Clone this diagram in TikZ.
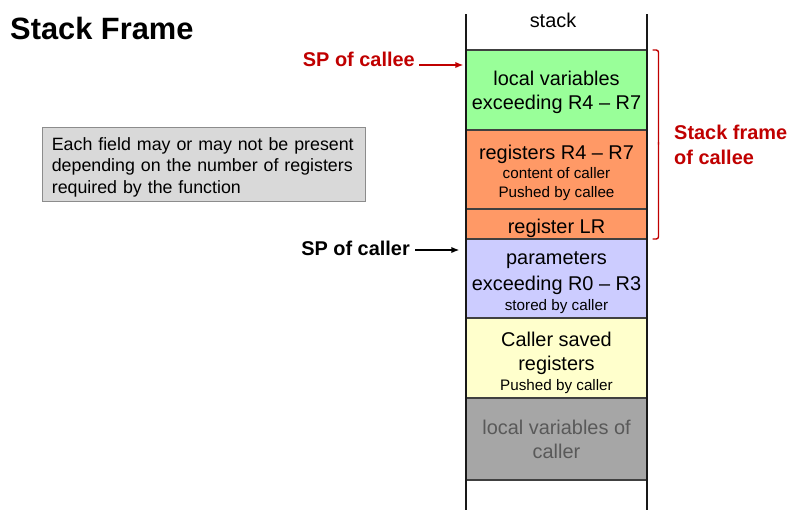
\documentclass[tikz,border=0pt]{standalone}
\usepackage{fontspec}
\setmainfont{Liberation Sans}
\usetikzlibrary{positioning, arrows.meta, calc}
\definecolor{cLocal}{HTML}{99FF99}
\definecolor{cRegs}{HTML}{FF9966}
\definecolor{cParam}{HTML}{CCCCFF}
\definecolor{cSaved}{HTML}{FFFFCC}
\definecolor{cOld}{HTML}{A6A6A6}
\definecolor{cOldTxt}{HTML}{595959}
\definecolor{cNote}{HTML}{D9D9D9}
\definecolor{cNoteB}{HTML}{8C8C8C}
\definecolor{cRed}{HTML}{C00000}
\newcommand{\bigtxt}{\fontsize{17}{20.5}\selectfont}
\newcommand{\smalltxt}{\fontsize{13}{15.5}\selectfont}
\tikzset{
  cell/.style     ={draw=black!75, line width=1pt, outer sep=0pt,
                    align=center, font=\bigtxt, inner sep=1pt,
                    text depth=0pt, minimum width=5.4cm},
  stackline/.style={line width=1.7pt, draw=black!90},
  splabel/.style  ={font=\bfseries\fontsize{17}{20}\selectfont, inner sep=0pt},
  sparrow/.style  ={-{Latex[length=7pt,width=5.5pt]}, line width=1.7pt},
  notebox/.style  ={draw=cNoteB, fill=cNote, line width=0.8pt,
                    align=left, font=\fontsize{15.2}{18.3}\selectfont,
                    minimum width=9.69cm, minimum height=2.22cm,
                    text width=9.1cm, inner sep=0pt},
}

\begin{document}
\begin{tikzpicture}[x=0.03cm, y=-0.03cm]
  \useasboundingbox (0,0) rectangle (798,521);

  % title and note
  \node[anchor=base west, font=\bfseries\fontsize{26.3}{30}\selectfont,
        inner sep=0pt] (title) at (10,39) {Stack Frame};
  \node[notebox] (note) at (203.5,164) {\rule{0pt}{16.5pt}Each field may or may not be present
    depending on the number of registers required by the function};

  % stack cells, top to bottom
  \node[cell, fill=cLocal, anchor=north, minimum height=2.4cm] (locals)
    at (556.5,50) {local variables\\exceeding R4 -- R7};
  \node[cell, fill=cRegs, below=0pt of locals, minimum height=2.37cm] (regs) {%
    \rule{0pt}{15.4pt}registers R4 -- R7\\[-4.5pt]
    {\smalltxt content of caller}\\[-3.7pt]
    {\smalltxt Pushed by callee}};
  \node[cell, fill=cRegs, below=0pt of regs, minimum height=0.9cm] (lr)
    {\rule{0pt}{15.4pt}register LR};
  \node[cell, fill=cParam, below=0pt of lr, minimum height=2.37cm] (params) {%
    \rule{0pt}{15.4pt}parameters\\[1.5pt]exceeding R0 -- R3\\[-4pt]
    {\smalltxt stored by caller}};
  \node[cell, fill=cSaved, below=0pt of params, minimum height=2.4cm] (saved) {%
    \rule{0pt}{18pt}Caller saved\\registers\\[-3pt]
    {\smalltxt Pushed by caller}};
  \node[cell, fill=cOld, text=cOldTxt, below=0pt of saved,
        minimum height=2.46cm] (oldlocals) {local variables of\\caller};

  % stack walls
  \coordinate (wlt) at (466,14);
  \coordinate (wlb) at (466,510);
  \coordinate (wrt) at (647,14);
  \coordinate (wrb) at (647,510);
  \draw[stackline] (wlt) -- (wlb);
  \draw[stackline] (wrt) -- (wrb);
  \node[font=\bigtxt, inner sep=0pt] (stacklbl) at (553,20) {stack};

  % stack pointers
  \node[splabel, text=cRed, anchor=base east] (spcallee) at (415,66) {SP of callee};
  \node[splabel, anchor=base east] (spcaller) at (410,255) {SP of caller};
  \draw[sparrow, cRed] ($(spcallee.base east)+(4,-1)$)
       -- ($(spcallee.base east -| locals.west)+(-3,-1)$);
  \draw[sparrow] ($(spcaller.base east)+(5,-5)$)
       -- ($(spcaller.base east -| params.west)+(-7,-5)$);

  % callee frame bracket
  \coordinate (brtop) at ($(locals.north east)+(6,0)$);
  \coordinate (brbot) at ($(lr.south east)+(6,0)$);
  \coordinate (brmid) at ($(brtop)!0.5!(brbot)+(6,0)$);
  \draw[cRed, line width=1.2pt, rounded corners=2pt]
       (brtop) -- ++(6,0) |- (brmid);
  \draw[cRed, line width=1.2pt, rounded corners=2pt]
       (brbot) -- ++(6,0) |- (brmid);
  \node[font=\bfseries\fontsize{17}{21}\selectfont, text=cRed, align=left,
        anchor=west, inner sep=0pt] (framelbl) at (674,145)
       {Stack frame\\of callee};
\end{tikzpicture}
\end{document}
